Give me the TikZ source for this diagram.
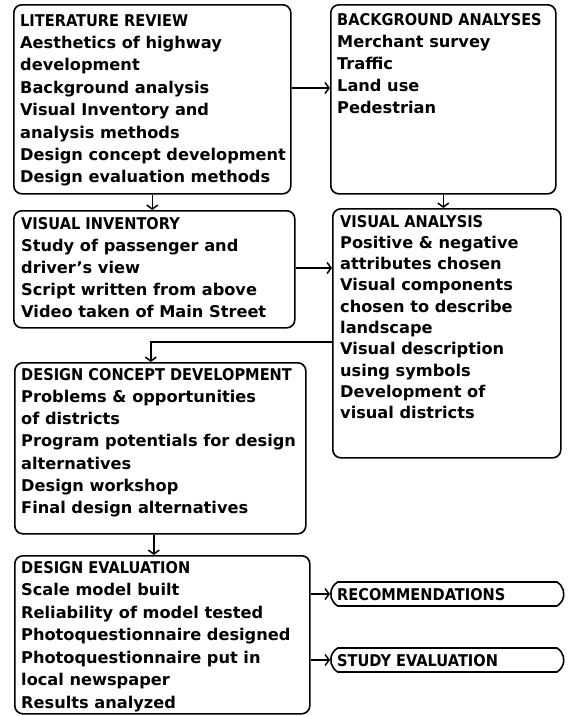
\documentclass[tikz,border=0pt]{standalone}
\usepackage{fontspec}
\setmainfont{DejaVu Sans}
\newfontfamily\titlefont{DejaVu Sans}[FakeStretch=0.9]
\usetikzlibrary{arrows.meta,shapes.misc}
\tikzset{
  box/.style={draw, line width=1.6pt, rounded corners=8pt, anchor=north west, inner sep=0pt},
  txt/.style={anchor=base west, inner sep=0pt, font=\fontsize{16.2}{22}\selectfont\bfseries},
  conn/.style={line width=1.5pt, -{Straight Barb[length=4pt,width=11pt,line width=1.5pt]}},
  endbox/.style={draw, line width=1.6pt, rounded rectangle, rounded rectangle arc length=120,
    minimum height=24pt, minimum width=233pt, anchor=west, inner sep=0pt},
  endtxt/.style={anchor=base west, inner sep=0pt, font=\fontsize{16.2}{22}\titlefont\bfseries}
}
\begin{document}
\begin{tikzpicture}[x=1pt,y=-1pt]
\useasboundingbox (0,0) rectangle (568,716);
% boxes
\node[box, minimum width=277pt, minimum height=189pt] (lit) at (13,4) {};
\node[box, minimum width=225pt, minimum height=189pt] (bg) at (330,4) {};
\node[box, minimum width=281pt, minimum height=117pt] (vi) at (13,210) {};
\node[box, minimum width=228pt, minimum height=249pt] (va) at (332,208) {};
\node[box, minimum width=291pt, minimum height=171pt] (dcd) at (14,362) {};
\node[box, minimum width=295pt, minimum height=158pt] (de) at (14,555) {};
\node[endbox] (rec) at (330,594) {};
\node[endbox] (stu) at (330,660) {};
% texts
\node[txt, font=\fontsize{16.2}{22.4}\selectfont\bfseries] (litT) at (20,26) {\parbox[t]{280pt}{{\titlefont LITERATURE REVIEW}\\Aesthetics of highway\\development\\Background analysis\\Visual Inventory and\\analysis methods\\Design concept development\\Design evaluation methods}};
\node[txt] (bgT) at (337,25) {\parbox[t]{220pt}{{\titlefont BACKGROUND ANALYSES}\\Merchant survey\\Traffic\\Land use\\Pedestrian}};
\node[txt] (viT) at (21,229) {\parbox[t]{280pt}{{\titlefont VISUAL INVENTORY}\\Study of passenger and\\driver's view\\Script written from above\\Video taken of Main Street}};
\node[txt, font=\fontsize{16.2}{21.3}\selectfont\bfseries] (vaT) at (340,227) {\parbox[t]{220pt}{{\titlefont VISUAL ANALYSIS}\\Positive \& negative\\attributes chosen\\Visual components\\chosen to describe\\landscape\\Visual description\\using symbols\\Development of\\visual districts}};
\node[txt, font=\fontsize{16.2}{22.3}\selectfont\bfseries] (dcdT) at (21,380) {\parbox[t]{290pt}{{\titlefont DESIGN CONCEPT DEVELOPMENT}\\Problems \& opportunities\\of districts\\Program potentials for design\\alternatives\\Design workshop\\Final design alternatives}};
\node[txt, font=\fontsize{16.2}{22.5}\selectfont\bfseries] (deT) at (21,573) {\parbox[t]{290pt}{{\titlefont DESIGN EVALUATION}\\Scale model built\\Reliability of model tested\\Photoquestionnaire designed\\Photoquestionnaire put in\\local newspaper\\Results analyzed}};
\node[endtxt] (recT) at (337,600) {RECOMMENDATIONS};
\node[endtxt] (stuT) at (337,666) {STUDY EVALUATION};
% connectors
\draw[conn] (lit.east |- 0,88) -- (bg.west |- 0,88);
\draw[conn] (bg.south) -- (bg.south |- va.north);
\draw[conn] (lit.south) -- (lit.south |- vi.north);
\draw[conn] (vi.east |- 0,268) -- (va.west |- 0,268);
\draw[conn] (va.west |- 0,342) -| ([xshift=-9.5pt]dcd.north);
\draw[conn] ([xshift=-6.5pt]dcd.south) -- ([xshift=-6.5pt]dcd.south |- de.north);
\draw[conn] (de.east |- rec.west) -- (rec.west);
\draw[conn] (de.east |- stu.west) -- (stu.west);
\end{tikzpicture}
\end{document}
